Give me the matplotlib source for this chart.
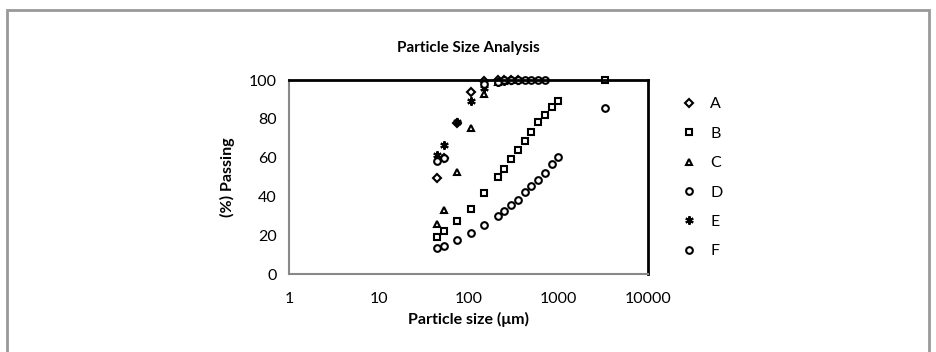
import matplotlib
matplotlib.use('Agg')
import matplotlib.pyplot as plt
from matplotlib.patches import Rectangle
import numpy as np

plt.rcParams['font.family'] = ['Lato', 'DejaVu Sans']

# sieve sizes (um)
sizes = [45, 53, 75, 106, 150, 212, 250, 300, 355, 425, 500, 600, 710, 850, 1000, 3350]

a_x = [45, 53, 75, 106, 150, 212, 250, 300, 355]
a_y = [49.3, 60, 78, 93.6, 99.5, 100, 100, 100, 100]

b_x = sizes
b_y = [19.2, 22, 27.2, 33.7, 41.6, 50.2, 54, 59.1, 63.8, 68.6, 73.4, 78.4, 82, 86.2, 89.3, 100]

c_x = [45, 53, 75, 106, 150, 212, 250, 300]
c_y = [26, 33, 52.7, 75.5, 93, 99, 99.5, 100]

d_x = sizes[:-1]
d_y = [13.2, 14.4, 17.5, 21.3, 25.3, 30, 32.5, 35.6, 38.1, 42.3, 45.4, 48.6, 52.2, 56.7, 60.3]

e_x = [45, 53, 75, 106, 150, 212, 250, 300, 355]
e_y = [61.3, 66.5, 78.5, 89.2, 95.7, 99, 99.5, 100, 100]

f_x = [45, 53, 150, 212, 250, 300, 355, 425, 500, 600, 710, 3350]
f_y = [58, 59.6, 98, 99, 100, 100, 100, 100, 100, 100, 100, 85.7]

fig = plt.figure(figsize=(9.36, 3.52), dpi=100)
ax = fig.add_axes([289/936, 1-274/352, (648-289)/936, (274-80)/352])

mk = dict(linestyle='none', markerfacecolor='white', markeredgecolor='black',
          markeredgewidth=1.5, clip_on=False)
ax.plot(a_x, a_y, marker='D', markersize=3.8, label='A', **mk)
ax.plot(b_x, b_y, marker='s', markersize=4.6, label='B', **mk)
ax.plot(c_x, c_y, marker='^', markersize=4.8, label='C', **mk)
ax.plot(d_x, d_y, marker='o', markersize=4.8, label='D', **mk)
ax.plot(e_x, e_y, marker=(6, 2, 0), markersize=6, label='E', **mk)
ax.plot(f_x, f_y, marker='o', markersize=4.8, label='F', **mk)

ax.set_xscale('log')
ax.set_xlim(1, 10000)
ax.set_ylim(0, 100)
ax.set_xticks([1, 10, 100, 1000, 10000])
ax.set_xticklabels(['1', '10', '100', '1000', '10000'])
ax.set_yticks([0, 20, 40, 60, 80, 100])
ax.minorticks_off()
ax.tick_params(length=0, labelsize=11.5)
ax.tick_params(axis='x', pad=13)
ax.tick_params(axis='y', pad=9)

for s in ['left', 'bottom']:
    ax.spines[s].set_color('#888888')
    ax.spines[s].set_linewidth(1.5)
for s in ['top', 'right']:
    ax.spines[s].set_color('black')
    ax.spines[s].set_linewidth(2)

ax.set_title('Particle Size Analysis', fontsize=11, fontweight='bold', pad=20)
ax.set_xlabel('Particle size (\u03bcm)', fontsize=11.5, fontweight='bold', labelpad=4)
ax.set_ylabel('(%) Passing', fontsize=11.5, fontweight='bold', labelpad=10)

ax.legend(loc='upper left', bbox_to_anchor=(1.053, 0.985), frameon=False,
          fontsize=11.5, handlelength=1, handletextpad=0.8, labelspacing=0.95)

fig.patches.append(Rectangle((7/936, -0.05), (929-7)/936, 1.05-10/352,
                             transform=fig.transFigure, fill=False,
                             edgecolor='#999999', linewidth=2))

fig.savefig('out.png', dpi=100)
